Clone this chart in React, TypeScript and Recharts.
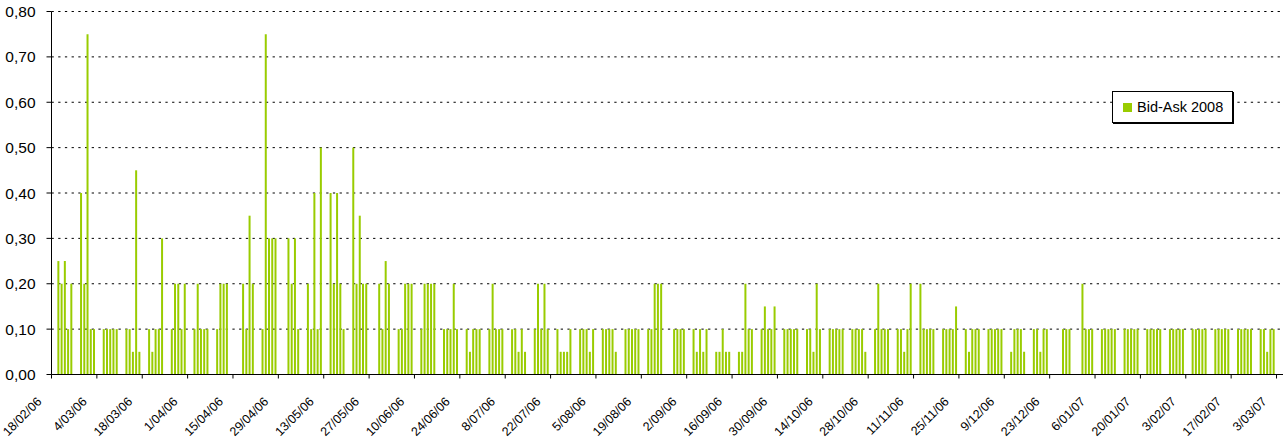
import React from "react";
import { BarChart, Bar, XAxis, YAxis, CartesianGrid, Legend } from "recharts";

// axis starts on Sat 18/02/06, one slot per calendar day
const START = Date.UTC(2006, 1, 18);
const LAST_DAY = 380;
const DAY_MS = 86400000;

const tickLabels = [
  "18/02/06", "4/03/06", "18/03/06", "1/04/06", "15/04/06", "29/04/06", "13/05/06",
  "27/05/06", "10/06/06", "24/06/06", "8/07/06", "22/07/06", "5/08/06", "19/08/06",
  "2/09/06", "16/09/06", "30/09/06", "14/10/06", "28/10/06", "11/11/06", "25/11/06",
  "9/12/06", "23/12/06", "6/01/07", "20/01/07", "3/02/07", "17/02/07", "3/03/07",
];

const yTicks = [0, 0.1, 0.2, 0.3, 0.4, 0.5, 0.6, 0.7, 0.8];

// bank holidays, no quote that day
const holidays = ["14/04/06", "17/04/06", "1/05/06", "29/05/06", "28/08/06", "25/12/06", "26/12/06", "1/01/07"];

// spread per trading day, one row per week (Mon..Fri) from 20/02/06
const bidAsk = [
  0.25, 0.2, 0.25, 0.1, 0.2,
  0.4, 0.2, 0.75, 0.1, 0.1,
  0.1, 0.1, 0.1, 0.1, 0.1,
  0.1, 0.1, 0.05, 0.45, 0.05,
  0.1, 0.05, 0.1, 0.1, 0.3,
  0.1, 0.2, 0.2, 0.1, 0.2,
  0.1, 0.2, 0.1, 0.1, 0.1,
  0.1, 0.2, 0.2, 0.2,
  0.2, 0.1, 0.35, 0.2,
  0.1, 0.75, 0.3, 0.3, 0.3,
  0.3, 0.2, 0.3, 0.1,
  0.2, 0.1, 0.4, 0.1, 0.5,
  0.4, 0.2, 0.4, 0.2, 0.1,
  0.5, 0.2, 0.35, 0.2, 0.2,
  0.2, 0.1, 0.25, 0.2,
  0.1, 0.1, 0.2, 0.2, 0.2,
  0.1, 0.2, 0.2, 0.2, 0.2,
  0.1, 0.1, 0.1, 0.2, 0.1,
  0.1, 0.05, 0.1, 0.1, 0.1,
  0.1, 0.2, 0.1, 0.1, 0.1,
  0.1, 0.1, 0.05, 0.1, 0.05,
  0.1, 0.2, 0.1, 0.2, 0.1,
  0.1, 0.05, 0.05, 0.05, 0.1,
  0.1, 0.1, 0.1, 0.05, 0.1,
  0.1, 0.1, 0.1, 0.1, 0.05,
  0.1, 0.1, 0.1, 0.1, 0.1,
  0.1, 0.1, 0.2, 0.2, 0.2,
  0.1, 0.1, 0.1, 0.1,
  0.1, 0.05, 0.1, 0.05, 0.1,
  0.05, 0.05, 0.1, 0.05, 0.05,
  0.05, 0.05, 0.2, 0.1, 0.1,
  0.1, 0.15, 0.1, 0.1, 0.15,
  0.1, 0.1, 0.1, 0.1, 0.1,
  0.1, 0.1, 0.05, 0.2, 0.1,
  0.1, 0.1, 0.1, 0.1, 0.1,
  0.1, 0.1, 0.1, 0.1, 0.05,
  0.1, 0.2, 0.1, 0.1, 0.1,
  0.1, 0.1, 0.05, 0.1, 0.2,
  0.2, 0.1, 0.1, 0.1, 0.1,
  0.1, 0.1, 0.1, 0.1, 0.15,
  0.1, 0.05, 0.1, 0.1, 0.1,
  0.1, 0.1, 0.1, 0.1, 0.1,
  0.05, 0.1, 0.1, 0.1, 0.05,
  0.1, 0.1, 0.05, 0.1, 0.1,
  0.1, 0.1, 0.1,
  0.2, 0.1, 0.1, 0.1,
  0.1, 0.1, 0.1, 0.1, 0.1,
  0.1, 0.1, 0.1, 0.1, 0.1,
  0.1, 0.1, 0.1, 0.1, 0.1,
  0.1, 0.1, 0.1, 0.1, 0.1,
  0.1, 0.1, 0.1, 0.1, 0.1,
  0.1, 0.1, 0.1, 0.1, 0.1,
  0.1, 0.1, 0.1, 0.1, 0.1,
  0.1, 0.1, 0.05, 0.1, 0.1,
];

const BAR_COLOR = "#99cc00";
const FONT = '"Liberation Sans", Arial, sans-serif';

const fmtDate = (t: number) => {
  const d = new Date(t);
  return `${d.getUTCDate()}/${String(d.getUTCMonth() + 1).padStart(2, "0")}/${String(d.getUTCFullYear()).slice(2)}`;
};

const tradingDays: { day: number; date: string }[] = [];
for (let day = 0; day < LAST_DAY; day++) {
  const t = START + day * DAY_MS;
  const dow = new Date(t).getUTCDay();
  const date = fmtDate(t);
  if (dow === 0 || dow === 6 || holidays.includes(date)) continue;
  tradingDays.push({ day, date });
}

const data = tradingDays.slice(0, bidAsk.length).map((d, i) => ({ ...d, value: bidAsk[i] }));

const DateTick = (props: any) => {
  const { x, y, payload } = props;
  const label = tickLabels[Math.round(payload.value / 14)];
  return (
    <text
      transform={`translate(${x - 12},${y + 19}) rotate(-45)`}
      textAnchor="end"
      dominantBaseline="central"
      fontSize={12.5}
      fontFamily={FONT}
      fill="#000"
    >
      {label}
    </text>
  );
};

const LegendBox = () => (
  <div
    style={{
      boxSizing: "border-box",
      width: 121,
      height: 32,
      border: "1px solid #000",
      boxShadow: "1px 1px 0 #000",
      background: "#fff",
      display: "flex",
      alignItems: "center",
      paddingLeft: 10,
      fontFamily: FONT,
      fontSize: 14.5,
      color: "#000",
    }}
  >
    <span style={{ display: "inline-block", width: 9, height: 9, background: BAR_COLOR, marginRight: 5 }} />
    Bid-Ask 2008
  </div>
);

export default function App() {
  return (
    <div style={{ position: "absolute", left: 0, top: 0, width: 1284, height: 439, background: "#fff" }}>
      <BarChart width={1284} height={439} data={data} margin={{ top: 11.5, right: 1, left: 0, bottom: 4.5 }}>
        <CartesianGrid vertical={false} stroke="#000" strokeDasharray="2.3 4.4" />
        <XAxis
          dataKey="day"
          type="number"
          domain={[0, LAST_DAY]}
          ticks={tickLabels.map((_, i) => i * 14)}
          interval={0}
          height={60}
          tickSize={4}
          tickMargin={2}
          tick={<DateTick />}
          axisLine={{ stroke: "#000" }}
          tickLine={{ stroke: "#000" }}
        />
        <YAxis
          width={51.5}
          domain={[0, 0.8]}
          ticks={yTicks}
          interval={0}
          tickSize={5}
          tickMargin={11}
          tickFormatter={(v: number) => v.toFixed(2).replace(".", ",")}
          tick={{ fill: "#000", fontSize: 15.5, fontFamily: FONT }}
          axisLine={{ stroke: "#000" }}
          tickLine={{ stroke: "#000" }}
        />
        <Legend
          layout="vertical"
          align="center"
          verticalAlign="middle"
          content={<LegendBox />}
          wrapperStyle={{ left: 1112, top: 91, width: "auto" }}
        />
        <Bar dataKey="value" fill={BAR_COLOR} barSize={2} isAnimationActive={false} />
      </BarChart>
    </div>
  );
}
